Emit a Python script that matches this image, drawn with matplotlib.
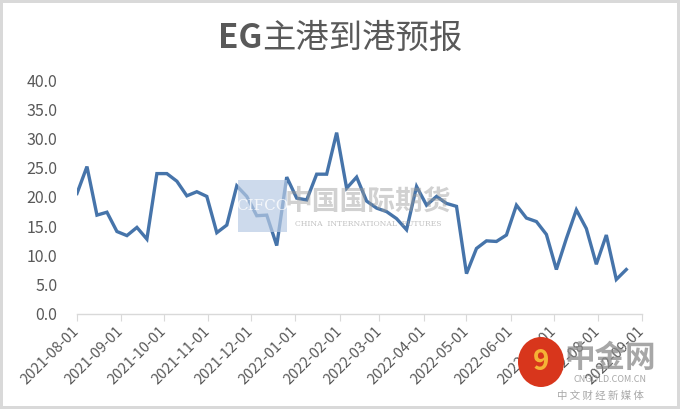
import numpy as np
import pandas as pd
import matplotlib
matplotlib.use("Agg")
import matplotlib.pyplot as plt
from matplotlib.patches import Rectangle, Ellipse

plt.rcParams['font.family'] = ['Noto Sans CJK SC', 'DejaVu Sans']

# ============================================================
# DONNEES
# ============================================================

titre_gras = "EG"
titre_suite = "主港到港预报"
date_debut = "2021-08-01"

valeurs = [20.6, 25.2, 16.9, 17.4, 14.1, 13.4, 14.8, 12.8, 24.0, 24.0,
           22.7, 20.2, 20.9, 20.1, 13.9, 15.2, 21.9, 20.1, 16.8, 16.9,
           11.7, 23.4, 19.8, 19.5, 23.9, 23.9, 31.0, 21.5, 23.4, 19.3,
           18.1, 17.5, 16.3, 14.4, 21.8, 18.6, 20.1, 18.9, 18.4, 6.9,
           11.2, 12.5, 12.4, 13.5, 18.6, 16.4, 15.8, 13.6, 7.6, 12.9,
           17.8, 14.6, 8.5, 13.5, 5.9, 7.6]

mois_ticks = ["2021-08-01", "2021-09-01", "2021-10-01", "2021-11-01",
              "2021-12-01", "2022-01-01", "2022-02-01", "2022-03-01",
              "2022-04-01", "2022-05-01", "2022-06-01", "2022-07-01",
              "2022-08-01", "2022-09-01"]

y_ticks = [0, 5, 10, 15, 20, 25, 30, 35, 40]

dates = pd.date_range(date_debut, periods=len(valeurs), freq="7D")

GRIS_TEXTE = "#595959"

# ============================================================
# GRAPHIQUE
# ============================================================

fig = plt.figure(figsize=(6.8, 4.09), dpi=100)
fig.patch.set_facecolor("white")
fig.patch.set_edgecolor("#d9d9d9")
fig.patch.set_linewidth(3)

ax = fig.add_axes([0.1132, 0.2323, 0.8309, 0.5721])

ax.plot(dates, valeurs, color="#4674AA", linewidth=2.4, solid_joinstyle="miter", zorder=3)

ax.set_xlim(pd.Timestamp(mois_ticks[0]), pd.Timestamp(mois_ticks[-1]))
ax.set_ylim(0, 40)

ax.set_xticks([pd.Timestamp(m) for m in mois_ticks])
ax.set_xticklabels(mois_ticks, rotation=45, ha="right", va="center",
                   rotation_mode="anchor", fontsize=10.5, color=GRIS_TEXTE)
ax.set_yticks(y_ticks)
ax.set_yticklabels([f"{v:.1f}" for v in y_ticks], fontsize=11.5, color=GRIS_TEXTE)

for cote in ["top", "right", "left"]:
    ax.spines[cote].set_visible(False)
ax.spines["bottom"].set_color("#d9d9d9")
ax.spines["bottom"].set_linewidth(1.0)

ax.tick_params(axis="x", direction="out", length=5, color="#d9d9d9", pad=6)
ax.tick_params(axis="y", length=0, pad=14)

# titre : "EG" en gras, le reste en normal, centre sur la figure
r = fig.canvas.get_renderer()
t1 = fig.text(0, 0.905, titre_gras, fontsize=24, fontweight="bold",
              color=GRIS_TEXTE, ha="left", va="center")
t2 = fig.text(0, 0.905, titre_suite, fontsize=24, color=GRIS_TEXTE,
              ha="left", va="center")
w1 = t1.get_window_extent(r).width
w2 = t2.get_window_extent(r).width
larg = fig.bbox.width
x0 = (larg - (w1 + w2)) / 2
t1.set_x(x0 / larg)
t2.set_x((x0 + w1) / larg)

# filigranes
fig.patches.append(Rectangle((238 / 680, 1 - 232 / 409), 49 / 680, 52 / 409,
                             transform=fig.transFigure, facecolor="#b8cbe4",
                             alpha=0.7, edgecolor="none", zorder=4))
fig.text(262 / 680, 1 - 206 / 409, "CIFCO", ha="center", va="center",
         fontsize=11, color="white", alpha=0.8, family="DejaVu Serif", zorder=5)
fig.text(368 / 680, 1 - 202 / 409, "中国国际期货", ha="center", va="center",
         fontsize=20, fontweight="bold", color="#9a9a9a", alpha=0.45, zorder=5)
fig.text(368 / 680, 1 - 224 / 409, "CHINA  INTERNATIONAL  FUTURES", ha="center",
         va="center", fontsize=5.5, color="#9a9a9a", alpha=0.6,
         family="DejaVu Serif", zorder=5)

fig.patches.append(Ellipse((541 / 680, 1 - 362 / 409), 46 / 680, 50 / 409,
                           transform=fig.transFigure, facecolor="#d8361c",
                           edgecolor="none", zorder=6))
fig.text(541 / 680, 1 - 362 / 409, "9", ha="center", va="center", fontsize=20,
         fontweight="bold", color="#f5b335", zorder=7)
fig.text(610 / 680, 1 - 358 / 409, "中金网", ha="center", va="center",
         fontsize=22, fontweight="bold", color="#8a8a8a", alpha=0.75, zorder=6)
fig.text(610 / 680, 1 - 380 / 409, "CNGOLD.COM.CN", ha="center", va="center",
         fontsize=6.5, color="#8a8a8a", alpha=0.75, zorder=6)
fig.text(600 / 680, 1 - 396 / 409, "中 文 财 经 新 媒 体", ha="center", va="center",
         fontsize=7.5, color="#8a8a8a", alpha=0.75, zorder=6)

fig.savefig("out.png", dpi=100)
plt.close(fig)
